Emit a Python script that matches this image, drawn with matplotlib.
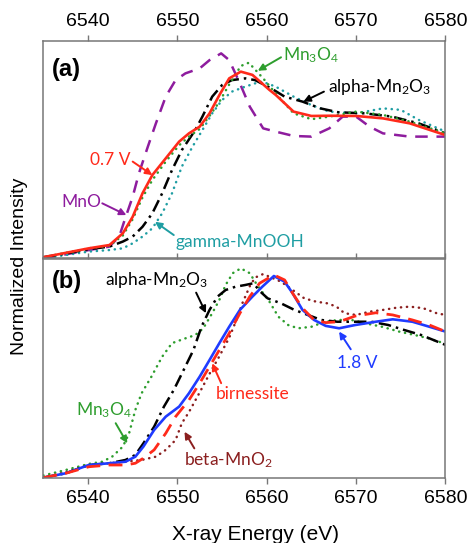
import matplotlib
matplotlib.use("Agg")
import matplotlib.pyplot as plt

plt.rcParams['font.family'] = ['Liberation Sans', 'DejaVu Sans']
plt.rcParams['mathtext.default'] = 'regular'

# ---- panel (a) ----
red_a_x = [6535, 6537.5, 6540.1, 6542.4, 6543.9, 6545.0, 6546.1, 6547.2, 6548.7, 6550.2, 6551.3, 6552.5,
           6553.6, 6554.7, 6555.8, 6557.1, 6558.4, 6560.3, 6561.0, 6563, 6565, 6567, 6570, 6573, 6576, 6580]
red_a_y = [0.005, 0.025, 0.046, 0.061, 0.115, 0.191, 0.299, 0.383, 0.46, 0.537, 0.575, 0.606,
           0.667, 0.751, 0.828, 0.859, 0.844, 0.775, 0.752, 0.675, 0.655, 0.656, 0.655, 0.644, 0.621, 0.567]

mn3o4_a_x = [6535, 6537.5, 6540.1, 6542.4, 6543.9, 6545.0, 6546.1, 6547.2, 6548.7, 6550.2, 6551.3, 6552.5,
             6553.6, 6554.7, 6555.8, 6557.1, 6558.0, 6559.6, 6561, 6563, 6565, 6567, 6570, 6573, 6576, 6580]
mn3o4_a_y = [0.005, 0.025, 0.046, 0.058, 0.105, 0.18, 0.28, 0.36, 0.445, 0.52, 0.56, 0.595,
             0.655, 0.72, 0.8, 0.885, 0.9, 0.828, 0.759, 0.667, 0.64, 0.652, 0.675, 0.66, 0.629, 0.575]

alpha_a_x = [6535, 6537.5, 6540.1, 6542.4, 6543.9, 6545.0, 6546.1, 6547.2, 6548.3, 6549.4, 6550.5, 6552.0,
             6552.8, 6553.9, 6555.0, 6556.1, 6557.6, 6558.7, 6560.5, 6562, 6564, 6566, 6568, 6571, 6574, 6577, 6580]
alpha_a_y = [0.005, 0.022, 0.042, 0.054, 0.077, 0.10, 0.145, 0.207, 0.299, 0.406, 0.498, 0.59,
             0.652, 0.744, 0.797, 0.82, 0.828, 0.82, 0.782, 0.744, 0.721, 0.69, 0.672, 0.667, 0.652, 0.621, 0.575]

gamma_a_x = [6535, 6537.5, 6540.1, 6542.4, 6543.9, 6545.0, 6546.1, 6547.2, 6548.3, 6549.4, 6550.5, 6551.7,
             6552.8, 6553.9, 6555.0, 6556.1, 6557.6, 6558.7, 6559.5, 6561, 6563, 6565, 6567, 6570, 6573,
             6575, 6577, 6580]
gamma_a_y = [0.0, 0.015, 0.031, 0.038, 0.046, 0.069, 0.10, 0.138, 0.207, 0.299, 0.422, 0.514,
             0.59, 0.667, 0.728, 0.767, 0.79, 0.805, 0.813, 0.79, 0.744, 0.705, 0.675, 0.667, 0.69,
             0.683, 0.637, 0.583]

mno_a_x = [6535, 6537.5, 6540.1, 6542.4, 6543.5, 6544.1, 6545.0, 6545.7, 6546.7, 6547.6, 6548.7, 6549.8,
           6550.9, 6552.5, 6553.6, 6554.9, 6555.8, 6557.0, 6558.1, 6559.6, 6561, 6563, 6565, 6567,
           6568.5, 6570, 6571.5, 6573, 6576, 6580]
mno_a_y = [0.0, 0.018, 0.038, 0.054, 0.10, 0.176, 0.283, 0.391, 0.514, 0.621, 0.744, 0.82,
           0.851, 0.874, 0.912, 0.943, 0.912, 0.805, 0.698, 0.598, 0.583, 0.563, 0.56, 0.598,
           0.652, 0.652, 0.606, 0.575, 0.56, 0.56]

# ---- panel (b) ----
blue_b_x = [6535, 6537.5, 6540.1, 6542.4, 6544.2, 6545.3, 6546.2, 6547.4, 6548.7, 6550.2, 6551.3, 6552.5,
            6553.6, 6554.7, 6555.8, 6557.0, 6558.4, 6559.5, 6560.8, 6562.0, 6562.9, 6564.0, 6565.3, 6566.6,
            6568.1, 6569.9, 6572.2, 6574.1, 6576.3, 6578.2, 6580]
blue_b_y = [0.0, 0.02, 0.058, 0.066, 0.073, 0.096, 0.142, 0.218, 0.279, 0.325, 0.386, 0.462,
            0.538, 0.615, 0.69, 0.767, 0.828, 0.873, 0.922, 0.896, 0.843, 0.767, 0.721, 0.694,
            0.683, 0.698, 0.713, 0.724, 0.713, 0.69, 0.668]

birn_b_x = [6535, 6537.5, 6540.1, 6542.4, 6544.2, 6545.3, 6546.2, 6547.4, 6548.7, 6549.8, 6551.3, 6552.5,
            6553.6, 6554.7, 6555.8, 6557.0, 6558.1, 6559.2, 6560.8, 6562.0, 6562.9, 6564.0, 6565.3, 6566.6,
            6568.1, 6569.9, 6572.2, 6574.1, 6576.3, 6578.2, 6580]
birn_b_y = [0.0, 0.02, 0.05, 0.058, 0.058, 0.066, 0.089, 0.127, 0.203, 0.279, 0.355, 0.432,
            0.508, 0.584, 0.66, 0.752, 0.828, 0.889, 0.927, 0.904, 0.843, 0.775, 0.721, 0.709,
            0.713, 0.739, 0.754, 0.744, 0.721, 0.698, 0.668]

beta_b_x = [6535, 6537.5, 6540.1, 6542.4, 6544.2, 6546.0, 6547.6, 6548.7, 6549.8, 6550.5, 6551.3, 6552.5,
            6553.6, 6554.7, 6555.8, 6556.5, 6557.3, 6558.1, 6558.7, 6559.6, 6561.6, 6562.9, 6564.2, 6565.5,
            6566.8, 6567.8, 6568.7, 6570.0, 6571.5, 6573.0, 6574.5, 6576.0, 6577.5, 6579.0, 6580]
beta_b_y = [0.0, 0.025, 0.058, 0.066, 0.073, 0.081, 0.096, 0.127, 0.172, 0.249, 0.30, 0.39,
            0.475, 0.555, 0.64, 0.71, 0.80, 0.875, 0.915, 0.931, 0.896, 0.858, 0.82, 0.805,
            0.797, 0.782, 0.752, 0.744, 0.759, 0.767, 0.777, 0.782, 0.775, 0.752, 0.744]

mn3o4_b_x = [6535, 6537.5, 6540.1, 6541.6, 6542.7, 6543.9, 6544.6, 6545.3, 6546.0, 6547.1, 6548.3, 6549.4,
             6550.9, 6552.0, 6552.9, 6553.9, 6554.7, 6555.4, 6556.2, 6557.1, 6558.1, 6558.8, 6559.6, 6560.3,
             6561.3, 6562.4, 6563.5, 6565.0, 6566.5, 6568.0, 6569.5, 6571.0, 6572.9, 6574.8, 6576.6, 6578.1, 6579.8]
mn3o4_b_y = [0.01, 0.035, 0.063, 0.073, 0.096, 0.142, 0.203, 0.31, 0.386, 0.462, 0.553, 0.615,
             0.637, 0.652, 0.683, 0.752, 0.813, 0.881, 0.935, 0.957, 0.935, 0.889, 0.843, 0.805,
             0.736, 0.698, 0.683, 0.69, 0.713, 0.721, 0.721, 0.706, 0.69, 0.668, 0.652, 0.637, 0.615]

alpha_b_x = [6535, 6537.5, 6540.1, 6542.4, 6544.2, 6545.3, 6546.2, 6547.4, 6548.5, 6549.6, 6550.7, 6551.8,
             6552.7, 6553.6, 6554.5, 6555.4, 6556.5, 6557.6, 6558.5, 6559.3, 6560.1, 6561.6, 6563.1, 6564.6,
             6566.1, 6567.9, 6569.9, 6571.7, 6573.6, 6575.4, 6577.3, 6580]
alpha_b_y = [0.0, 0.02, 0.058, 0.066, 0.081, 0.104, 0.157, 0.233, 0.325, 0.401, 0.492, 0.584,
             0.69, 0.767, 0.828, 0.858, 0.873, 0.881, 0.889, 0.85, 0.82, 0.797, 0.767, 0.744,
             0.721, 0.713, 0.713, 0.713, 0.698, 0.675, 0.652, 0.607]

x_ticks = [6540, 6550, 6560, 6570, 6580]

RED = '#ff2a1a'
GREEN = '#2e9e2e'
TEAL = '#1f9ea3'
PURPLE = '#8e1c9e'
BLUE = '#1f3bff'
BROWN = '#8b1f1f'
SPINE = '#777777'
ANN = ['Lato', 'DejaVu Sans']

fig = plt.figure(figsize=(4.68, 5.43), dpi=100)
ax1 = fig.add_axes([0.0925, 0.5243, 0.8594, 0.4002])
ax2 = fig.add_axes([0.0925, 0.1203, 0.8594, 0.4028])

lw = 1.8
dots = (0, (0.1, 2.3))
# (a)
ax1.plot(mno_a_x, mno_a_y, color=PURPLE, lw=lw, dashes=(5, 3.5))
ax1.plot(gamma_a_x, gamma_a_y, color=TEAL, lw=lw, ls=dots, dash_capstyle='round')
ax1.plot(alpha_a_x, alpha_a_y, color='black', lw=lw, dashes=(5, 2, 1, 2))
ax1.plot(mn3o4_a_x, mn3o4_a_y, color=GREEN, lw=lw, ls=dots, dash_capstyle='round')
ax1.plot(red_a_x, red_a_y, color=RED, lw=1.9)

# (b)
ax2.plot(mn3o4_b_x, mn3o4_b_y, color=GREEN, lw=lw, ls=dots, dash_capstyle='round')
ax2.plot(beta_b_x, beta_b_y, color=BROWN, lw=lw, ls=dots, dash_capstyle='round')
ax2.plot(alpha_b_x, alpha_b_y, color='black', lw=lw, dashes=(5, 2, 1, 2))
ax2.plot(blue_b_x, blue_b_y, color=BLUE, lw=1.9)
ax2.plot(birn_b_x, birn_b_y, color=RED, lw=2.0, dashes=(5, 3))

for ax in (ax1, ax2):
    ax.set_xlim(6535, 6580)
    ax.set_ylim(0, 1)
    ax.set_yticks([])
    ax.set_xticks(x_ticks)
    for s in ax.spines.values():
        s.set_color(SPINE)
        s.set_linewidth(1.1)

ax1.tick_params(axis='x', top=True, labeltop=True, bottom=False, labelbottom=False,
                direction='out', length=4, width=1, color=SPINE, labelsize=14, pad=4)
ax2.tick_params(axis='x', top=True, labeltop=False, bottom=True, labelbottom=True,
                direction='out', length=4, width=1, color=SPINE, labelsize=14, pad=5)


def note(ax, text, color, txy, tip, tail, ha='left'):
    ax.text(txy[0], txy[1], text, color=color, fontsize=12.5, family=ANN, ha=ha, va='center')
    ax.annotate('', xy=tip, xytext=tail,
                arrowprops=dict(arrowstyle='-|>', color=color, lw=1.4, shrinkA=0, shrinkB=0,
                                mutation_scale=10))


ax1.text(6536.0, 0.87, '(a)', fontsize=17, fontweight='bold', va='center')
note(ax1, 'Mn$_3$O$_4$', GREEN, (6561.8, 0.936), (6559.0, 0.863), (6561.6, 0.925))
note(ax1, 'alpha-Mn$_2$O$_3$', 'black', (6566.8, 0.787), (6564.1, 0.721), (6566.4, 0.767))
note(ax1, '0.7 V', RED, (6544.8, 0.452), (6547.2, 0.383), (6545.0, 0.445), ha='right')
note(ax1, 'MnO', PURPLE, (6541.5, 0.26), (6544.3, 0.199), (6541.6, 0.253), ha='right')
note(ax1, 'gamma-MnOOH', TEAL, (6549.8, 0.076), (6547.5, 0.168), (6549.6, 0.107))

ax2.text(6536.0, 0.896, '(b)', fontsize=17, fontweight='bold', va='center')
note(ax2, 'alpha-Mn$_2$O$_3$', 'black', (6541.9, 0.904), (6553.2, 0.752), (6552.1, 0.846))
note(ax2, 'Mn$_3$O$_4$', GREEN, (6538.7, 0.31), (6544.4, 0.157), (6543.1, 0.249))
note(ax2, 'birnessite', RED, (6554.3, 0.383), (6553.9, 0.523), (6554.9, 0.432))
note(ax2, 'beta-MnO$_2$', BROWN, (6550.7, 0.078), (6550.8, 0.21), (6551.9, 0.134))
note(ax2, '1.8 V', BLUE, (6567.9, 0.523), (6568.1, 0.668), (6569.4, 0.587))

fig.text(256 / 468, 1 - 540 / 543, 'X-ray Energy (eV)', ha='center', va='baseline', fontsize=15)
fig.text(20 / 468, 1 - 266 / 543, 'Normalized Intensity', rotation=90, ha='center', va='center',
         fontsize=14)

fig.savefig('out.png', dpi=100)
